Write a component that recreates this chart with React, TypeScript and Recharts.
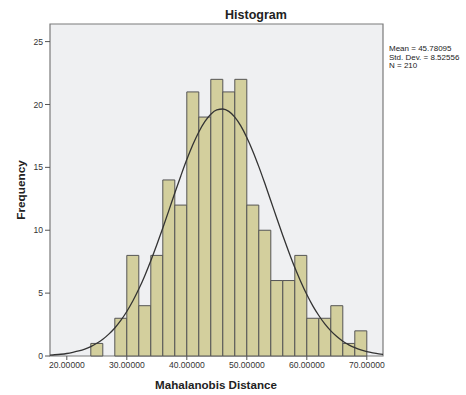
import React from 'react';
import { ComposedChart, Line, XAxis, YAxis, ReferenceArea } from 'recharts';

// Histogram bins (Mahalanobis Distance), bin width 2
const binStarts = [24, 26, 28, 30, 32, 34, 36, 38, 40, 42, 44, 46, 48, 50, 52, 54, 56, 58, 60, 62, 64, 66, 68];
const binCounts = [1, 0, 3, 8, 4, 8, 14, 12, 21, 19, 22, 21, 22, 12, 10, 6, 6, 8, 3, 3, 4, 1, 2];
const binWidth = 2;

// Fitted normal curve
const curveX = [17, 18, 19, 20, 21, 22, 23, 24, 25, 26, 27, 28, 29, 30, 31, 32, 33, 34, 35, 36, 37, 38, 39, 40, 41, 42, 43, 44, 45, 46, 47, 48, 49, 50, 51, 52, 53, 54, 55, 56, 57, 58, 59, 60, 61, 62, 63, 64, 65, 66, 67, 68, 69, 70, 71, 72, 73];
const curveY = [0.07, 0.1, 0.14, 0.2, 0.29, 0.4, 0.55, 0.75, 1.01, 1.33, 1.74, 2.23, 2.83, 3.54, 4.37, 5.32, 6.39, 7.57, 8.84, 10.18, 11.56, 12.96, 14.32, 15.62, 16.79, 17.81, 18.63, 19.23, 19.57, 19.64, 19.45, 19.0, 18.3, 17.38, 16.29, 15.06, 13.73, 12.35, 10.95, 9.58, 8.27, 7.03, 5.91, 4.89, 3.99, 3.22, 2.55, 2.0, 1.55, 1.18, 0.89, 0.66, 0.48, 0.35, 0.25, 0.17, 0.12];

const xTicks = [20, 30, 40, 50, 60, 70];
const yTicks = [0, 5, 10, 15, 20, 25];
const statsLines = ['Mean = 45.78095', 'Std. Dev. = 8.52556', 'N = 210'];
const title = 'Histogram';
const xLabel = 'Mahalanobis Distance';
const yLabel = 'Frequency';

const X_DOMAIN: [number, number] = [17.2, 72.7];
const Y_DOMAIN: [number, number] = [0, 26.4];

const FONT = '"Liberation Sans", Arial, sans-serif';

export default function App() {
  const data = curveX.map((x, i) => ({ x, y: curveY[i] }));
  return (
    <div style={{ position: 'absolute', left: 0, top: 0, width: 466, height: 395, background: '#ffffff', fontFamily: FONT }}>
      <ComposedChart
        width={466}
        height={395}
        data={data}
        margin={{ top: 24, right: 83, bottom: 14, left: 20 }}
      >
        <XAxis
          dataKey="x"
          type="number"
          domain={X_DOMAIN}
          allowDataOverflow
          ticks={xTicks}
          tickFormatter={(v: number) => v.toFixed(5)}
          height={25}
          tickSize={4}
          axisLine={false}
          tickLine={{ stroke: '#555' }}
          tick={{ fontSize: 8.6, fill: '#333', fontFamily: FONT }}
        />
        <YAxis
          type="number"
          domain={Y_DOMAIN}
          allowDataOverflow
          ticks={yTicks}
          width={30}
          tickSize={5}
          axisLine={false}
          tickLine={{ stroke: '#555' }}
          tick={{ fontSize: 8.6, fill: '#333', fontFamily: FONT }}
        />
        <ReferenceArea
          x1={X_DOMAIN[0]}
          x2={X_DOMAIN[1]}
          y1={Y_DOMAIN[0]}
          y2={Y_DOMAIN[1]}
          fill="#eff0f2"
          fillOpacity={1}
          stroke="#7a7a7a"
          strokeWidth={1.2}
          ifOverflow="visible"
        />
        {binStarts.map((s, i) =>
          binCounts[i] > 0 ? (
            <ReferenceArea
              key={i}
              x1={s}
              x2={s + binWidth}
              y1={0}
              y2={binCounts[i]}
              fill="#d3cf9d"
              fillOpacity={1}
              stroke="#555555"
              strokeWidth={1}
              ifOverflow="visible"
            />
          ) : null
        )}
        <Line
          dataKey="y"
          type="monotone"
          stroke="#333333"
          strokeWidth={1.3}
          dot={false}
          activeDot={false}
          isAnimationActive={false}
        />
      </ComposedChart>
      <svg
        width={466}
        height={395}
        style={{ position: 'absolute', left: 0, top: 0, pointerEvents: 'none' }}
      >
        <text x={256} y={19} textAnchor="middle" fontSize={12.5} fontWeight="bold" fill="#222" fontFamily={FONT}>
          {title}
        </text>
        <text x={216} y={389} textAnchor="middle" fontSize={11.6} fontWeight="bold" fill="#222" fontFamily={FONT}>
          {xLabel}
        </text>
        <text
          x={25}
          y={190}
          textAnchor="middle"
          fontSize={11.8}
          fontWeight="bold"
          fill="#222"
          fontFamily={FONT}
          transform="rotate(-90 25 190)"
        >
          {yLabel}
        </text>
        {statsLines.map((t, i) => (
          <text key={t} x={389} y={51 + i * 8.6} fontSize={8} fill="#222" fontFamily={FONT}>
            {t}
          </text>
        ))}
      </svg>
    </div>
  );
}
